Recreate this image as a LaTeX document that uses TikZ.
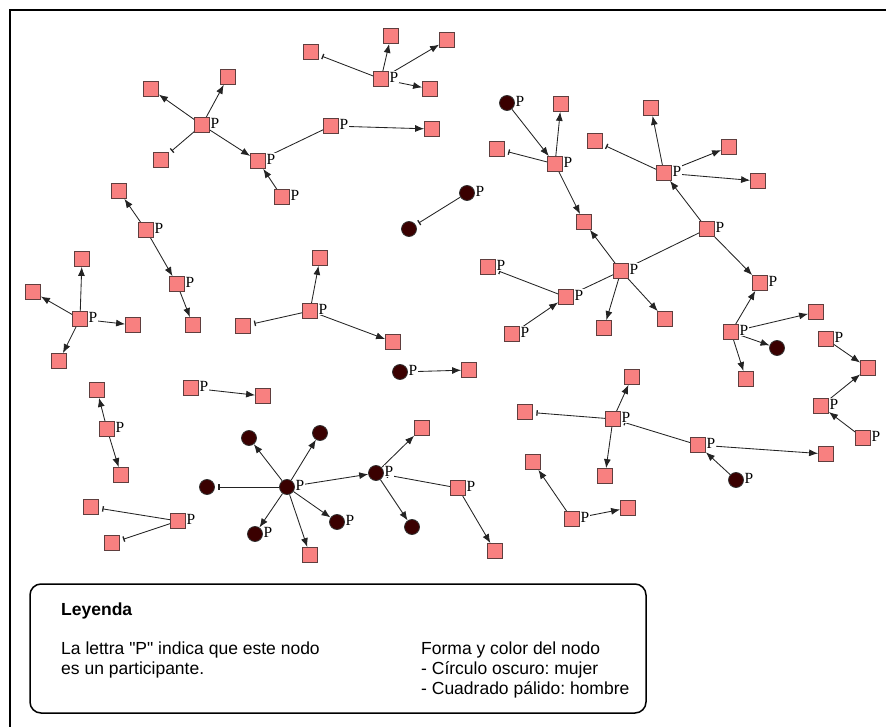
\documentclass[tikz,border=0pt]{standalone}
\usepackage{fontspec}
\setmainfont{Liberation Sans}[Ligatures=TeXReset]
\newfontfamily\pfont{Liberation Serif}
\usetikzlibrary{arrows.meta}
\pgfdeclarelayer{edges}
\pgfsetlayers{edges,main}
\frenchspacing

\definecolor{sqfill}{RGB}{248,128,128}
\definecolor{sqline}{RGB}{95,62,62}
\definecolor{cifill}{RGB}{58,0,0}
\definecolor{edgecol}{RGB}{35,35,35}

\tikzset{
  sq/.style={rectangle, minimum size=15pt, inner sep=0pt, draw=sqline, fill=sqfill, line width=0.8pt},
  ci/.style={circle, minimum size=15pt, inner sep=0pt, draw=black!80, fill=cifill, line width=0.8pt},
  plabel/.style={font=\pfont\fontsize{15.5}{15}\selectfont, inner sep=0.6pt, fill=white, yshift=2pt},
  part/.style={label={[plabel]east:P}},
  ed/.style={draw=edgecol, line width=0.85pt, -{Latex[length=9pt,width=7pt]}},
  tk/.style={draw=edgecol, line width=0.85pt, -{Bar[width=5.5pt,line width=1.3pt]}, shorten >=3.5pt},
  pl/.style={draw=edgecol, line width=0.85pt},
  lg/.style={font=\fontsize{17.5}{20}\selectfont, inner sep=0pt, anchor=base west},
}

\begin{document}
\begin{tikzpicture}[x=1pt, y=-1pt]
\useasboundingbox (0,0) rectangle (886,727);

% outer frame (left and top sides)
\draw[line width=2pt] (10,727) -- (10,10) -- (886,10);

% ---- top-left group
\node[sq, part] (a1) at (202,125) {};
\node[sq] (a2) at (151,89) {};
\node[sq] (a3) at (228,77) {};
\node[sq] (a4) at (161,160) {};
\node[sq, part] (a5) at (258,161) {};
\node[sq, part] (a6) at (282,197) {};
\node[sq, part] (a7) at (331,126) {};
\node[sq] (a8) at (432,129) {};

% ---- top-middle group
\node[sq, part] (b1) at (381,79) {};
\node[sq] (b2) at (311,52) {};
\node[sq] (b3) at (391,36) {};
\node[sq] (b4) at (447,40) {};
\node[sq] (b5) at (430,89) {};

% ---- top-right group
\node[ci, part] (c1) at (507,103) {};
\node[sq] (c2) at (561,104) {};
\node[sq] (c3) at (497,149) {};
\node[sq, part] (c4) at (555,164) {};
\node[sq] (c5) at (584,222) {};
\node[sq] (c6) at (651,108) {};
\node[sq] (c7) at (595,141) {};
\node[sq] (c8) at (729,147) {};
\node[sq, part] (c9) at (664,173) {};
\node[sq] (c10) at (758,181) {};
\node[sq, part] (c11) at (707,229) {};
\node[sq, part] (c12) at (621,271) {};
\node[sq, part] (c13) at (488,267) {};
\node[sq, part] (c14) at (566,297) {};
\node[sq, part] (c15) at (512,334) {};
\node[sq] (c16) at (604,328) {};
\node[sq] (c17) at (665,319) {};
\node[sq, part] (c18) at (760,283) {};
\node[sq, part] (c19) at (731,332) {};
\node[sq] (c20) at (816,312) {};
\node[ci] (c21) at (777,348) {};
\node[sq] (c22) at (746,379) {};

% ---- pair in the middle
\node[ci, part] (d1) at (467,193) {};
\node[ci] (d2) at (409,229) {};

% ---- left groups
\node[sq] (e1) at (119,191) {};
\node[sq, part] (e2) at (146,230) {};
\node[sq, part] (e3) at (177,284) {};
\node[sq] (e4) at (193,325) {};

\node[sq, part] (f1) at (80,319) {};
\node[sq] (f2) at (82,259) {};
\node[sq] (f3) at (33,292) {};
\node[sq] (f4) at (133,325) {};
\node[sq] (f5) at (59,361) {};

% ---- centre groups
\node[sq, part] (g1) at (310,311) {};
\node[sq] (g2) at (320,258) {};
\node[sq] (g3) at (243,326) {};
\node[sq] (g4) at (393,342) {};

\node[ci, part] (h1) at (400,372) {};
\node[sq] (h2) at (469,370) {};

% ---- right chain
\node[sq, part] (i1) at (826,339) {};
\node[sq] (i2) at (868,368) {};
\node[sq, part] (i3) at (821,406) {};
\node[sq, part] (i4) at (863,438) {};

% ---- lower-left groups
\node[sq, part] (j1) at (107,429) {};
\node[sq] (j2) at (97,390) {};
\node[sq] (j3) at (121,475) {};

\node[sq, part] (k1) at (191,388) {};
\node[sq] (k2) at (263,396) {};

\node[sq, part] (l1) at (178,521) {};
\node[sq] (l2) at (91,507) {};
\node[sq] (l3) at (112,543) {};

% ---- lower-middle star
\node[ci, part] (m1) at (287,487) {};
\node[ci] (m2) at (249,438) {};
\node[ci] (m3) at (320,433) {};
\node[ci] (m4) at (207,487) {};
\node[ci, part] (m5) at (255,534) {};
\node[ci, part] (m6) at (337,522) {};
\node[sq] (m7) at (310,555) {};
\node[ci, part] (m8) at (376,473) {};
\node[sq] (m9) at (422,428) {};
\node[ci] (m10) at (412,527) {};
\node[sq, part] (m11) at (458,488) {};
\node[sq] (m12) at (495,551) {};

% ---- lower-right groups
\node[sq, part] (n1) at (613,419) {};
\node[sq] (n2) at (632,377) {};
\node[sq] (n3) at (525,412) {};
\node[sq] (n4) at (605,476) {};
\node[sq, part] (n5) at (698,445) {};
\node[sq] (n6) at (826,454) {};
\node[ci, part] (n7) at (736,480) {};

\node[sq, part] (o1) at (572,519) {};
\node[sq] (o2) at (533,462) {};
\node[sq] (o3) at (628,508) {};

% ---- connectors
\begin{pgfonlayer}{edges}
\draw[ed] (a1) -- (a2);
\draw[ed] (a1) -- (a3);
\draw[tk] (a1) -- (a4);
\draw[ed] (a1) -- (a5);
\draw[ed] (a6) -- (a5);
\draw[pl] (a5) -- (a7);
\draw[ed] (a7) -- (a8);

\draw[tk] (b1) -- (b2);
\draw[ed] (b1) -- (b3);
\draw[ed] (b1) -- (b4);
\draw[ed] (b1) -- (b5);

\draw[ed] (c1) -- (c4);
\draw[ed] (c4) -- (c2);
\draw[tk] (c4) -- (c3);
\draw[ed] (c4) -- (c5);
\draw[ed] (c9) -- (c6);
\draw[tk] (c9) -- (c7);
\draw[ed] (c9) -- (c8);
\draw[ed] (c9) -- (c10);
\draw[ed] (c11) -- (c9);
\draw[pl] (c11) -- (c12);
\draw[ed] (c11) -- (c18);
\draw[ed] (c12) -- (c5);
\draw[ed] (c12) -- (c16);
\draw[ed] (c12) -- (c17);
\draw[pl] (c12) -- (c14);
\draw[tk] (c14) -- (c13);
\draw[ed] (c15) -- (c14);
\draw[ed] (c19) -- (c18);
\draw[ed] (c19) -- (c20);
\draw[ed] (c19) -- (c21);
\draw[ed] (c19) -- (c22);

\draw[tk] (d1) -- (d2);

\draw[ed] (e2) -- (e1);
\draw[ed] (e2) -- (e3);
\draw[ed] (e3) -- (e4);

\draw[ed] (f1) -- (f2);
\draw[ed] (f1) -- (f3);
\draw[ed] (f1) -- (f4);
\draw[ed] (f1) -- (f5);

\draw[ed] (g1) -- (g2);
\draw[tk] (g1) -- (g3);
\draw[ed] (g1) -- (g4);

\draw[ed] (h1) -- (h2);

\draw[ed] (i1) -- (i2);
\draw[ed] (i3) -- (i2);
\draw[ed] (i4) -- (i3);

\draw[ed] (j1) -- (j2);
\draw[ed] (j1) -- (j3);
\draw[ed] (k1) -- (k2);
\draw[tk] (l1) -- (l2);
\draw[tk] (l1) -- (l3);

\draw[ed] (m1) -- (m2);
\draw[ed] (m1) -- (m3);
\draw[tk] (m1) -- (m4);
\draw[ed] (m1) -- (m5);
\draw[ed] (m1) -- (m6);
\draw[ed] (m1) -- (m7);
\draw[ed] (m1) -- (m8);
\draw[ed] (m8) -- (m9);
\draw[ed] (m8) -- (m10);
\draw[tk] (m11) -- (m8);
\draw[ed] (m11) -- (m12);

\draw[ed] (n1) -- (n2);
\draw[tk] (n1) -- (n3);
\draw[ed] (n1) -- (n4);
\draw[tk] (n5) -- (n1);
\draw[ed] (n5) -- (n6);
\draw[ed] (n7) -- (n5);

\draw[ed] (o1) -- (o2);
\draw[ed] (o1) -- (o3);
\end{pgfonlayer}

% ---- legend
\draw[line width=1.5pt, rounded corners=11pt] (30,584) rectangle (646,713);
\node[lg] (leyenda) at (61,615) {\bfseries Leyenda};
\node[lg] (t1) at (61,654) {La lettra "P" indica que este nodo};
\node[lg] (t2) at (61,674) {es un participante.};
\node[lg] (t3) at (421,654) {Forma y color del nodo};
\node[lg] (t4) at (421,674) {- Círculo oscuro: mujer};
\node[lg] (t5) at (421,694) {- Cuadrado pálido: hombre};
\end{tikzpicture}
\end{document}
